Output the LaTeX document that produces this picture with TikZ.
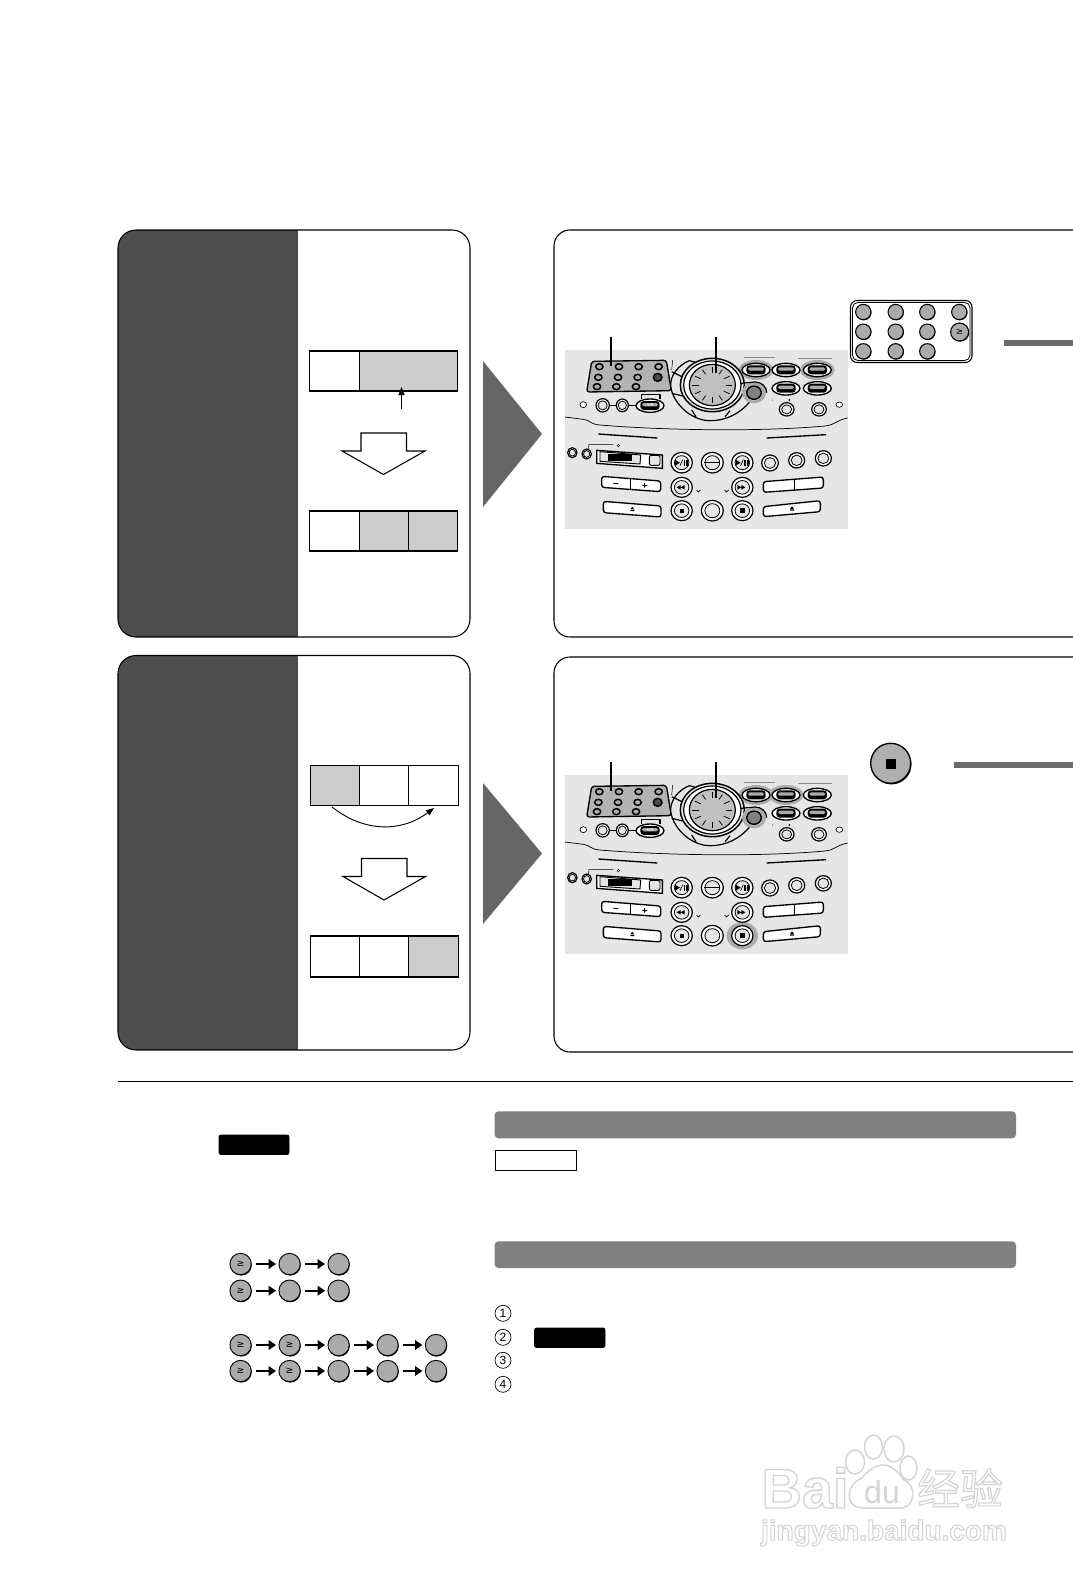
\documentclass[tikz,border=0pt]{standalone}
\usepackage{fontspec}
\setmainfont{Liberation Sans}
\newfontfamily\dejavu{DejaVu Sans}
\newfontfamily\cjkfont{Noto Sans CJK SC}
\usetikzlibrary{arrows.meta,shadows}
\definecolor{panelDark}{HTML}{4D4D4D}
\definecolor{cellGrey}{HTML}{CCCCCC}
\definecolor{triGrey}{HTML}{666666}
\definecolor{barGrey}{HTML}{808080}
\definecolor{devBg}{HTML}{E6E6E6}
\definecolor{btnGrey}{HTML}{ABABAB}
\definecolor{wmGrey}{HTML}{D4D4D4}
\tikzset{
  framed/.style={draw=black,line width=.8pt,rounded corners=13.5pt},
  cell/.style={draw=black,line width=.8pt,fill=white,rectangle,minimum height=30pt,inner sep=0pt,outer sep=0pt},
  hollowarrow/.style={draw=black,line width=.8pt,fill=white,line join=miter},
  devline/.style={line width=.9pt,draw=black},
  leader/.style={line width=1.3pt,draw=black},
  kbtn/.style={circle,draw=black,line width=.8pt,fill=btnGrey,minimum size=11.5pt,inner sep=0pt,
     drop shadow={shadow xshift=.4pt,shadow yshift=-.5pt,fill=black,opacity=1}},
  chainbtn/.style={circle,draw=black,line width=.7pt,fill=btnGrey,minimum size=16pt,inner sep=0pt,
     font=\dejavu\fontsize{7}{7}\selectfont,
     drop shadow={shadow xshift=.4pt,shadow yshift=-.7pt,fill=black,opacity=1}},
  chainarrow/.style={-{Triangle[length=5.5pt,width=7pt]},line width=1.5pt,shorten <=3.5pt,shorten >=1.8pt},
  keycap/.style={fill=black,draw=black,rounded corners=1.5pt,line width=.6pt},
  greybar/.style={fill=barGrey,rounded corners=3pt},
  stepnum/.style={circle,draw=black,line width=.5pt,minimum size=12pt,inner sep=0pt,font=\fontsize{9}{9}\selectfont},
}
% ---- device helpers, in the device's local units
\newcommand{\dvpill}[2]{%
  \fill[white] (#1,#2) ellipse [x radius=42,y radius=20];
  \draw[line width=1pt] (#1,#2) ellipse [x radius=42,y radius=20];
  \fill[black,rounded corners=2.5pt] (#1-29,#2-14) rectangle (#1+29,#2+13);
  \fill[btnGrey,rounded corners=1.2pt] (#1-24,#2-8) rectangle (#1+24,#2+2);}
\newcommand{\dvhalo}[2]{\fill[btnGrey] (#1,#2) ellipse [x radius=52,y radius=30];}
\newcommand{\dvring}[4]{%
  \fill[white] (#1,#2) ellipse [x radius=#3,y radius=#4];
  \draw[line width=.9pt] (#1,#2) ellipse [x radius=#3,y radius=#4];
  \draw[line width=.6pt,fill=devBg] (#1,#2) ellipse [x radius=#3*.68,y radius=#4*.68];}
\newcommand{\dvplay}[2]{%
  \dvring{#1}{#2}{32}{31}
  \fill (#1-20,#2-9) -- (#1-5,#2) -- (#1-20,#2+9) -- cycle;
  \draw[line width=.5pt] (#1-5,#2+9) -- (#1+3,#2-9);
  \fill (#1+6,#2-9) rectangle (#1+11,#2+9);
  \fill (#1+14,#2-9) rectangle (#1+19,#2+9);}
\newcommand{\dvdevice}[2]{%
 \begin{scope}[shift={(550,#1)},x=.25pt,y=-.25pt]
  \fill[devBg] (45,180) rectangle (893,716);
  % highlights
  #2
  % keypad
  \draw[line width=1pt,fill=btnGrey!90,rounded corners=2pt] (125,214) -- (349,211) -- (364,302) -- (110,306) -- cycle;
  \foreach \bx/\by in {148/230,207/230,266/230,326/230,145/262,204/262,263/262,141/290,199/290,258/290}
    {\draw[line width=1.1pt,fill=btnGrey] (\bx,\by) ellipse [x radius=11,y radius=9];}
  \draw[line width=1.1pt,fill=black!70] (323,262) ellipse [x radius=13,y radius=12];
  \draw[line width=.4pt] (368,210) -- (365,240);
  % wheel
  \draw[devline,fill=devBg] (418,212) .. controls (385,225) and (362,255) .. (362,285) .. controls (365,335) and (420,392) .. (480,392) .. controls (530,392) and (570,370) .. (600,335) -- (560,250) -- cycle;
  \draw[devline] (365,310) -- (398,318) (425,360) -- (438,380) (525,380) -- (540,362) (365,245) -- (400,262);
  \draw[line width=1.1pt,fill=devBg] (487,285) ellipse [x radius=96,y radius=80];
  \draw[line width=.9pt,fill=white] (487,285) ellipse [x radius=86,y radius=72];
  \draw[line width=.9pt,fill=btnGrey!75] (487,285) ellipse [x radius=69,y radius=62];
  \foreach \a in {0,30,...,330}
    {\draw[line width=.55pt] ({487+40*cos(\a)},{285+37*sin(\a)}) -- ({487+60*cos(\a)},{285+53*sin(\a)});}
  % round key
  \fill[btnGrey] (612,308) ellipse [x radius=36,y radius=32];
  \draw[line width=.9pt] (572,280) -- (615,276) .. controls (635,276) and (650,290) .. (650,308);
  \fill[white] (612,308) ellipse [x radius=25,y radius=23];
  \draw[line width=1.1pt,fill=black!50] (612,308) ellipse [x radius=22,y radius=20];
  % pills
  \draw[line width=.4pt,draw=black!45] (582,202) -- (675,202) (745,204) -- (845,204);
  \dvpill{618}{240}\dvpill{708}{240}\dvpill{802}{240}\dvpill{708}{295}\dvpill{802}{295}
  % small row
  \draw[line width=.5pt,fill=white] (100,344) ellipse [x radius=10,y radius=9];
  \draw[line width=1.2pt] (158,346) -- (260,346);
  \dvring{158}{346}{20}{20}\dvring{217}{346}{18}{19}
  \fill[black] (272,313) rectangle (332,326);
  \fill[devBg] (276,316) rectangle (328,326);
  \dvpill{300}{347}
  \node[text=white,font=\fontsize{3.2}{3.2}\selectfont\bfseries,inner sep=0pt] at (300,345) {+/II};
  \dvring{710}{358}{22}{20}\dvring{807}{358}{22}{20}
  \draw[line width=.5pt,fill=white] (868,344) ellipse [x radius=10,y radius=8];
  \fill (668,330) circle (1.5) (718,330) circle (3);
  % divider
  \draw[line width=.55pt] (45,381) -- (100,388) .. controls (120,390) and (120,403) .. (150,405) .. controls (300,418) and (600,428) .. (825,408) .. controls (855,405) and (860,390) .. (893,384);
  \draw[line width=1pt] (145,432) -- (322,444) (650,444) -- (828,434);
  \draw[line width=.4pt] (115,482) -- (117,463) -- (190,463);
  \draw[line width=.3pt] (205,467) circle (4);
  \dvring{67}{488}{14}{15}\dvring{110}{492}{14}{15}
  % display
  \draw[line width=1pt,fill=white] (140,481) -- (337,495) -- (337,535) -- (140,520) -- cycle;
  \draw[line width=.7pt,fill=devBg] (150,485) -- (272,495) -- (270,522) -- (150,514) -- cycle;
  \fill (175,491) rectangle (245,513);
  \draw[line width=.7pt,fill=devBg,rounded corners=1.5pt] (298,496) rectangle (330,526);
  % transport
  \dvplay{395}{518}\dvplay{577}{518}
  \dvring{487}{518}{33}{31}\draw[line width=.4pt] (463,518) -- (511,518);
  \dvring{395}{592}{32}{30}\dvring{577}{592}{32}{30}
  \fill (380,592) -- (392,585) -- (392,599) -- cycle (392,592) -- (404,585) -- (404,599) -- cycle;
  \fill (562,585) -- (574,592) -- (562,599) -- cycle (574,585) -- (586,592) -- (574,599) -- cycle;
  \draw[line width=.5pt] (440,600) -- (445,606) -- (451,600) (524,600) -- (530,606) -- (536,600);
  \dvring{395}{662}{32}{30}\dvring{487}{662}{33}{31}\dvring{577}{662}{32}{30}
  \fill (390,657) rectangle (401,668);
  \fill (569,654) rectangle (585,670);
  % right buttons
  \dvring{660}{519}{25}{24}\dvring{740}{511}{24}{23}\dvring{820}{505}{24}{23}
  % deck keys
  \draw[line width=1pt,fill=white,rounded corners=2pt] (155,559) -- (332,573) -- (332,605) -- (155,592) -- cycle;
  \draw[line width=.7pt] (242,568) -- (242,597);
  \draw[line width=.7pt] (190,580) -- (205,581) (277,586) -- (292,587) (284,579) -- (284,593);
  \draw[line width=1pt,fill=white,rounded corners=2pt] (640,575) -- (820,561) -- (820,594) -- (640,607) -- cycle;
  \draw[line width=.7pt] (733,570) -- (733,600);
  \draw[line width=1pt,fill=white,rounded corners=2pt] (160,634) -- (333,648) -- (333,681) -- (160,668) -- cycle;
  \fill (241,658) -- (247,650) -- (253,658) -- cycle (241,660) rectangle (253,663);
  \draw[line width=1pt,fill=white,rounded corners=2pt] (640,650) -- (811,632) -- (811,665) -- (640,680) -- cycle;
  \fill (720,657) -- (726,649) -- (732,657) -- cycle (720,659) rectangle (732,662);
 \end{scope}}
\begin{document}
\begin{tikzpicture}[x=.75pt,y=-.75pt]
\useasboundingbox (0,0) rectangle (1073,1592);
\fill[white] (0,0) rectangle (1073,1592);

% ---- left panels
\begin{scope}
 \clip[rounded corners=13.5pt] (118,230) rectangle (470,637);
 \fill[panelDark] (118,230) rectangle (298,637);
\end{scope}
\draw[framed] (118,230) rectangle (470,637);
\begin{scope}
 \clip[rounded corners=13.5pt] (118,655.5) rectangle (470,1050);
 \fill[panelDark] (118,655.5) rectangle (298,1050);
\end{scope}
\draw[framed] (118,655.5) rectangle (470,1050);

% ---- right panels (open on the page edge)
\draw[framed,rounded corners=12pt] (1073,230) -- (554,230) -- (554,637) -- (1073,637);
\draw[framed,rounded corners=12pt] (1073,657) -- (554,657) -- (554,1052) -- (1073,1052);

% ---- triangles
\fill[triGrey] (483,361) -- (542,434) -- (483,507) -- cycle;
\fill[triGrey] (483,783) -- (542,853.5) -- (483,924) -- cycle;

% ---- first panel cells
\node[cell,minimum width=37.5pt] (a1) at (334.25,371) {};
\node[cell,minimum width=73.5pt,fill=cellGrey] (a2) at (408.25,371) {};
\coordinate (a2arrow) at (401.5,409);
\draw[-{Triangle[length=6pt,width=4.5pt]},line width=.7pt] (a2arrow) -- (401.5,387);
\draw[hollowarrow] (361,451) -- (361,433) -- (406.5,433) -- (406.5,451) -- (425,451) -- (383.5,474.5) -- (342,451) -- cycle;
\node[cell,minimum width=37.5pt] (b1) at (334.25,531) {};
\node[cell,minimum width=37pt,fill=cellGrey] (b2) at (383.75,531) {};
\node[cell,minimum width=37pt,fill=cellGrey] (b3) at (433,531) {};

% ---- second panel cells
\node[cell,minimum width=36.75pt,fill=cellGrey] (c1) at (335,785.5) {};
\node[cell,minimum width=36.75pt] (c2) at (384,785.5) {};
\node[cell,minimum width=37.5pt] (c3) at (433.5,785.5) {};
\coordinate (carcstart) at (332,807);
\coordinate (carcend) at (434,808);
\draw[-{Triangle[length=6pt,width=4.5pt]},line width=.7pt] (carcstart) .. controls (365,833) and (402,832) .. (carcend);
\draw[hollowarrow] (361.5,876.5) -- (361.5,858.5) -- (407,858.5) -- (407,876.5) -- (425.5,876.5) -- (384,900) -- (343,876.5) -- cycle;
\node[cell,minimum width=36.75pt,minimum height=30.75pt] (d1) at (335,956.5) {};
\node[cell,minimum width=36.75pt,minimum height=30.75pt] (d2) at (384,956.5) {};
\node[cell,minimum width=37.5pt,minimum height=30.75pt,fill=cellGrey] (d3) at (433.5,956.5) {};

% ---- devices
\dvdevice{290}{\dvhalo{618}{240}\dvhalo{802}{240}}
\dvdevice{715}{\dvhalo{618}{240}\dvhalo{708}{240}\fill[btnGrey] (577,662) circle [x radius=47,y radius=41];}

% ---- leaders
\coordinate (la1) at (611,337); \coordinate (la2) at (611,366);
\coordinate (lb1) at (715.7,337); \coordinate (lb2) at (715.7,373);
\draw[leader] (la1) -- (la2); \draw[leader] (lb1) -- (lb2);
\coordinate (lc1) at (611,762); \coordinate (lc2) at (611,791);
\coordinate (ld1) at (715.7,762); \coordinate (ld2) at (715.7,798);
\draw[leader] (lc1) -- (lc2); \draw[leader] (ld1) -- (ld2);

% ---- remote keypad
\draw[line width=.8pt,rounded corners=5pt] (850.5,300.5) rectangle (972,362.5);
\draw[line width=.6pt,rounded corners=4pt] (852.5,302.5) rectangle (970,360.5);
\node[kbtn] (k1) at (863.3,312) {};
\node[kbtn] (k2) at (895.7,312) {};
\node[kbtn] (k3) at (927.3,312) {};
\node[kbtn] (k4) at (959.3,312) {};
\node[kbtn] (k5) at (863.3,331.7) {};
\node[kbtn] (k6) at (895.7,331.7) {};
\node[kbtn] (k7) at (927.3,331.7) {};
\node[kbtn,minimum size=13.5pt,font=\dejavu\fontsize{6.5}{6.5}\selectfont] (k8) at (959.6,332) {≥};
\node[kbtn] (k9) at (863.3,351.3) {};
\node[kbtn] (k10) at (895.7,351.3) {};
\node[kbtn] (k11) at (927.3,351.3) {};
\fill[black!58] (1004,340) rectangle (1073,345.7);

% ---- stop button
\node[circle,draw=black,line width=1pt,fill=btnGrey!95,minimum size=30pt,inner sep=0pt,
  drop shadow={shadow xshift=.6pt,shadow yshift=-.8pt,fill=black,opacity=1}] (stopkey) at (890.7,763.3) {};
\fill (886,758.5) rectangle (896,768.5);
\fill[black!58] (954,762) rectangle (1073,768.3);

% ---- rule
\draw[line width=1.2pt] (118,1081.5) -- (1073,1081.5);

% ---- lower left
\draw[keycap] (219,1135) rectangle (289,1154.5);
\foreach \xa/\ya/\nm/\tx in {240.6/1264/p1/≥,289.6/1264/p2/,338.6/1264/p3/,
   240.6/1290.7/q1/≥,289.6/1290.7/q2/,338.6/1290.7/q3/,
   240.6/1345/r1/≥,289.6/1345/r2/≥,338.6/1345/r3/,387.6/1345/r4/,436/1345/r5/,
   240.6/1371/s1/≥,289.6/1371/s2/≥,338.6/1371/s3/,387.6/1371/s4/,436/1371/s5/}
  {\node[chainbtn] (\nm) at (\xa,\ya) {\tx};}
\draw[chainarrow] (p1) -- (p2); \draw[chainarrow] (p2) -- (p3);
\draw[chainarrow] (q1) -- (q2); \draw[chainarrow] (q2) -- (q3);
\draw[chainarrow] (r1) -- (r2); \draw[chainarrow] (r2) -- (r3); \draw[chainarrow] (r3) -- (r4); \draw[chainarrow] (r4) -- (r5);
\draw[chainarrow] (s1) -- (s2); \draw[chainarrow] (s2) -- (s3); \draw[chainarrow] (s3) -- (s4); \draw[chainarrow] (s4) -- (s5);

% ---- lower right
\fill[greybar] (494.5,1111.3) rectangle (1016,1138.3);
\draw[line width=.7pt,fill=white] (495,1150) rectangle (576.5,1170.7);
\fill[greybar] (494.5,1241.3) rectangle (1016,1268);
\node[stepnum] (n1) at (503,1313.3) {1};
\node[stepnum] (n2) at (503,1337.3) {2};
\node[stepnum] (n3) at (503,1360.3) {3};
\node[stepnum] (n4) at (503,1384.3) {4};
\draw[keycap] (534.6,1328) rectangle (605,1347.5);

% ---- watermark
\begin{scope}[draw=wmGrey,line width=1.1pt]
 \foreach \wx/\wy/\wa/\wb in {855/1462/9.5/12,873.5/1447/9/12,894/1449/10/13,908.5/1468/8.5/12}
   {\draw (\wx,\wy) ellipse [x radius=\wa,y radius=\wb];}
 \draw (862,1508) .. controls (842,1506) and (848,1482) .. (862,1478) .. controls (868,1470) and (878,1464) .. (884,1465) .. controls (892,1465) and (900,1474) .. (904,1480) .. controls (916,1484) and (916,1506) .. (902,1508) -- cycle;
\end{scope}
\node[text=wmGrey,inner sep=0pt,font=\fontsize{42}{42}\selectfont\bfseries] (wm1) at (805,1488)
  {\special{pdf:code 1 Tr 1 w}Bai\special{pdf:code 0 Tr}};
\node[text=wmGrey,inner sep=0pt,font=\fontsize{24}{24}\selectfont] (wm2) at (882,1492) {du};
\node[text=wmGrey,inner sep=0pt,font=\cjkfont\fontsize{32}{32}\selectfont] (wm3) at (960,1488)
  {\special{pdf:code 1 Tr 0.9 w}经验\special{pdf:code 0 Tr}};
\node[text=wmGrey,inner sep=0pt,font=\fontsize{21}{21}\selectfont\bfseries] (wm4) at (884,1533)
  {\special{pdf:code 1 Tr 0.8 w}jingyan.baidu.com\special{pdf:code 0 Tr}};
\end{tikzpicture}
\end{document}
